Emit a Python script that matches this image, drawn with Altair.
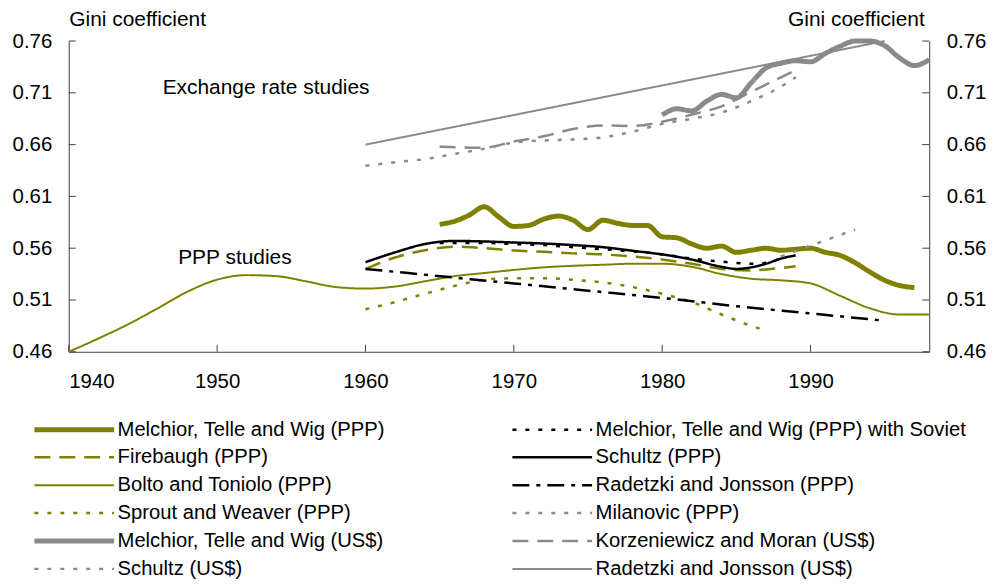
import altair as alt
import pandas as pd

FONT = "Liberation Sans"
AXIS = "#404040"
OLIVE = "#808000"
GRAY = "#8a8a8a"

# legend order: left column top-to-bottom, then right column
names = [
    "Melchior, Telle and Wig (PPP)",
    "Firebaugh (PPP)",
    "Bolto and Toniolo (PPP)",
    "Sprout and Weaver (PPP)",
    "Melchior, Telle and Wig (US$)",
    "Schultz (US$)",
    "Melchior, Telle and Wig (PPP) with Soviet",
    "Schultz (PPP)",
    "Radetzki and Jonsson (PPP)",
    "Milanovic (PPP)",
    "Korzeniewicz and Moran (US$)",
    "Radetzki and Jonsson (US$)",
]
colors = [OLIVE, OLIVE, OLIVE, OLIVE, GRAY, GRAY, "black", "black", "black", GRAY, GRAY, GRAY]
dashes = [[1, 0], [16, 9], [1, 0], [4, 9], [1, 0], [4, 9],
          [4, 9], [1, 0], [17, 7, 4, 7], [4, 9], [16, 9], [1, 0]]
widths = [5, 2.5, 2, 2.5, 5, 2.5, 2.5, 2.5, 2.5, 2.5, 2.5, 2]

# --- series data ---
mtw_ppp_years = list(range(1965, 1998))
mtw_ppp = [0.583, 0.586, 0.592, 0.600, 0.590, 0.581, 0.582, 0.588, 0.591, 0.587, 0.578,
           0.587, 0.584, 0.582, 0.582, 0.571, 0.570, 0.564, 0.560, 0.562, 0.556, 0.558,
           0.560, 0.558, 0.559, 0.560, 0.556, 0.553, 0.546, 0.537, 0.529, 0.524, 0.522]

mtw_sov_years = [1965, 1966, 1968, 1970, 1972, 1974, 1976, 1978, 1980, 1982, 1984, 1986, 1987, 1988]
mtw_sov = [0.565, 0.565, 0.565, 0.564, 0.563, 0.561, 0.559, 0.557, 0.554, 0.550, 0.547, 0.545, 0.546, 0.550]

fire_years = [1960, 1962, 1964, 1966, 1968, 1970, 1972, 1974, 1976, 1978, 1980, 1982, 1984, 1986, 1987, 1989]
fire = [0.540, 0.551, 0.558, 0.5615, 0.560, 0.5578, 0.5565, 0.555, 0.554, 0.552, 0.549,
        0.545, 0.540, 0.5385, 0.5395, 0.5425]

schultz_ppp_years = [1960, 1962, 1964, 1966, 1968, 1970, 1972, 1974, 1976, 1978, 1980, 1982,
                     1984, 1985, 1986, 1987, 1988, 1989]
schultz_ppp = [0.5465, 0.556, 0.564, 0.567, 0.5665, 0.5655, 0.5645, 0.563, 0.561, 0.5575,
               0.554, 0.549, 0.542, 0.540, 0.5415, 0.545, 0.550, 0.553]

bolto_years = [1940, 1942, 1944, 1946, 1948, 1950, 1952, 1954, 1956, 1958, 1960, 1962, 1964,
               1966, 1968, 1970, 1972, 1974, 1976, 1978, 1980, 1982, 1984, 1986, 1988, 1990,
               1992, 1994, 1996, 1998]
bolto = [0.460, 0.4728, 0.4865, 0.502, 0.518, 0.5296, 0.534, 0.533, 0.528, 0.5225, 0.521,
         0.523, 0.528, 0.533, 0.536, 0.539, 0.5415, 0.543, 0.544, 0.545, 0.545, 0.542,
         0.535, 0.5305, 0.529, 0.526, 0.514, 0.502, 0.496, 0.496]

rad_ppp_years = [1960, 1965, 1970, 1975, 1980, 1985, 1990, 1995]
rad_ppp = [0.540, 0.533, 0.526, 0.519, 0.512, 0.504, 0.497, 0.490]

sprout_years = [1960, 1962, 1964, 1966, 1968, 1970, 1972, 1974, 1976, 1978, 1980, 1982, 1984, 1986, 1987]
sprout = [0.501, 0.508, 0.516, 0.5235, 0.5295, 0.531, 0.531, 0.5295, 0.527, 0.5225, 0.516,
          0.508, 0.496, 0.485, 0.4805]

milan_years = [1988, 1993]
milan = [0.552, 0.578]

mtw_usd_years = list(range(1980, 1999))
mtw_usd = [0.6886, 0.6946, 0.6925, 0.702, 0.7085, 0.7052, 0.7196, 0.734, 0.7385, 0.741,
           0.740, 0.748, 0.755, 0.760, 0.760, 0.7555, 0.7437, 0.7363, 0.742]

korz_years = [1965, 1968, 1970, 1972, 1974, 1976, 1978, 1980, 1982, 1984, 1986, 1989]
korz = [0.658, 0.657, 0.663, 0.668, 0.675, 0.6785, 0.678, 0.682, 0.689, 0.697, 0.711, 0.732]

schultz_usd_years = [1960, 1962, 1964, 1966, 1968, 1970, 1972, 1974, 1976, 1978, 1980, 1982,
                     1984, 1986, 1988, 1989]
schultz_usd = [0.6395, 0.643, 0.646, 0.651, 0.656, 0.662, 0.664, 0.665, 0.667, 0.6725, 0.680,
               0.685, 0.691, 0.702, 0.716, 0.725]

rad_usd_years = [1960, 1995]
rad_usd = [0.660, 0.760]

series_years = {
    names[0]: (mtw_ppp_years, mtw_ppp),
    names[1]: (fire_years, fire),
    names[2]: (bolto_years, bolto),
    names[3]: (sprout_years, sprout),
    names[4]: (mtw_usd_years, mtw_usd),
    names[5]: (schultz_usd_years, schultz_usd),
    names[6]: (mtw_sov_years, mtw_sov),
    names[7]: (schultz_ppp_years, schultz_ppp),
    names[8]: (rad_ppp_years, rad_ppp),
    names[9]: (milan_years, milan),
    names[10]: (korz_years, korz),
    names[11]: (rad_usd_years, rad_usd),
}

x_ticks = [1940, 1950, 1960, 1970, 1980, 1990]
y_ticks = [0.46, 0.51, 0.56, 0.61, 0.66, 0.71, 0.76]

ann_labels = ["Exchange rate studies", "PPP studies"]
ann_years = [1953.3, 1951.2]
ann_values = [0.7145, 0.5501]

width_of = dict(zip(names, widths))
rows = []
for n in names:
    ys, vs = series_years[n]
    for yr, v in zip(ys, vs):
        rows.append({"series": n, "year": yr, "gini": v, "w": width_of[n]})
df = pd.DataFrame(rows)
ytick_df = pd.DataFrame({"gini": y_ticks})
xtick_df = pd.DataFrame({"year": x_ticks})
ann_df = pd.DataFrame({"label": ann_labels, "year": ann_years, "gini": ann_values})

thick = [n for n, w in zip(names, widths) if w >= 5]
thin = [n for n, w in zip(names, widths) if w <= 2]


def js_list(items):
    return "[" + ",".join("'" + s + "'" for s in items) + "]"


sw_expr = (f"(indexof({js_list(thick)}, datum.value) >= 0 ? 5 : "
           f"(indexof({js_list(thin)}, datum.value) >= 0 ? 2 : 2.5))")

W, H = 864, 312
TICK_FS = 20.5
TITLE_FS = 21
LEG_FS = 20.3
xscale = alt.Scale(domain=[1940, 1998], nice=False, zero=False)
yscale = alt.Scale(domain=[0.46, 0.76], nice=False, zero=False)

x_enc = alt.X("year:Q", scale=xscale,
              axis=alt.Axis(values=x_ticks, format="d", title=None, labelPadding=20))

legend = alt.Legend(orient="none", legendX=-36, legendY=380, columns=2, columnPadding=126,
                    rowPadding=7.0, symbolType="stroke", symbolSize=6400, clipHeight=20,
                    symbolStrokeWidth=alt.ExprRef(sw_expr),
                    labelFontSize=LEG_FS, labelFont=FONT, labelColor="black", labelLimit=600,
                    title=None, labelOffset=2)

lines = alt.Chart(df).mark_line(interpolate="monotone").encode(
    x=x_enc,
    y=alt.Y("gini:Q", scale=yscale,
            axis=alt.Axis(orient="left", values=y_ticks, format=".2f", title="Gini coefficient",
                          titleAngle=0, titleX=0, titleY=-16, titleAlign="left",
                          titleBaseline="alphabetic", labelPadding=17)),
    color=alt.Color("series:N", scale=alt.Scale(domain=names, range=colors), legend=legend),
    strokeDash=alt.StrokeDash("series:N", scale=alt.Scale(domain=names, range=dashes), legend=legend),
    strokeWidth=alt.StrokeWidth("w:Q", scale=None, legend=None),
)

right_axis = alt.Chart(ytick_df).mark_rule(color=AXIS, strokeWidth=1).encode(
    y=alt.Y("gini:Q", scale=yscale,
            axis=alt.Axis(orient="right", values=y_ticks, format=".2f", title="Gini coefficient",
                          titleAngle=0, titleX=-5, titleY=-16, titleAlign="right",
                          titleBaseline="alphabetic", labelPadding=17)),
    x=alt.value(W - 7), x2=alt.value(W),
)

left_ticks = alt.Chart(ytick_df).mark_rule(color=AXIS, strokeWidth=1).encode(
    y=alt.Y("gini:Q", scale=yscale, axis=None),
    x=alt.value(0), x2=alt.value(7),
)

x_tick_marks = alt.Chart(xtick_df).mark_rule(color=AXIS, strokeWidth=1).encode(
    x=x_enc, y=alt.value(H - 7), y2=alt.value(H),
)

labels = alt.Chart(ann_df).mark_text(font=FONT, fontSize=TITLE_FS, color="black", align="center",
                                     baseline="middle").encode(
    x=x_enc, y=alt.Y("gini:Q", scale=yscale, axis=None), text="label:N",
)

chart = alt.layer(left_ticks, x_tick_marks, lines, labels, right_axis).resolve_scale(
    y="independent"
).properties(
    width=W, height=H,
    autosize=alt.AutoSizeParams(type="none"),
    padding={"left": 61, "top": 32, "right": 57, "bottom": 230},
).configure(font=FONT).configure_axis(
    labelFont=FONT, labelFontSize=TICK_FS, labelColor="black", titleFont=FONT,
    titleFontSize=TITLE_FS, titleFontWeight="normal", titleColor="black",
    domainColor=AXIS, domainWidth=1, ticks=False, tickSize=0, grid=False,
).configure_legend(labelFont=FONT, labelFontSize=LEG_FS).configure_view(stroke=None)

chart.save("out.html", embed_options={"renderer": "svg", "actions": False})
